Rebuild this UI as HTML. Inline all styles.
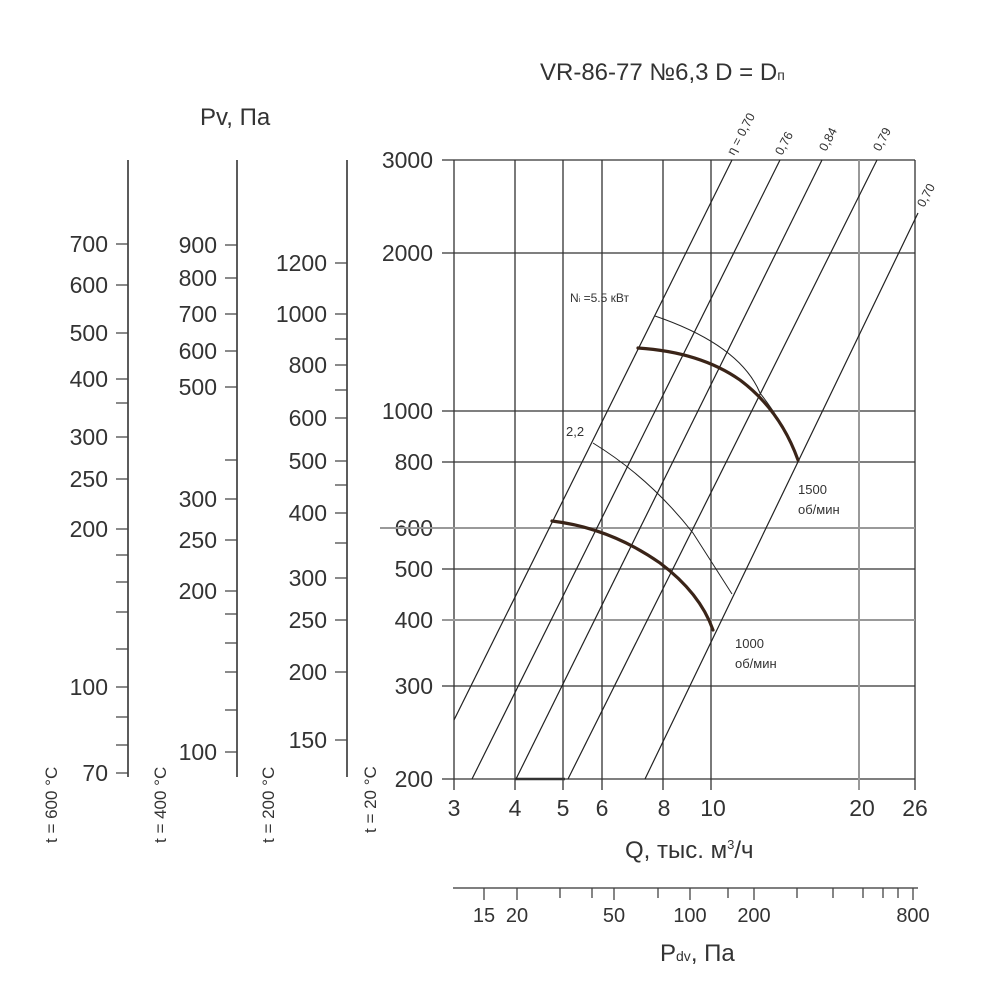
<!DOCTYPE html>
<html><head><meta charset="utf-8"><style>
html,body{margin:0;padding:0;background:#fff;}
svg{display:block;font-family:"Liberation Sans","DejaVu Sans",sans-serif;}
</style></head><body>
<svg width="1000" height="1000" viewBox="0 0 1000 1000" xmlns="http://www.w3.org/2000/svg">
<rect width="1000" height="1000" fill="#fff"/>
<text x="540" y="80" font-size="24" fill="#333">VR-86-77 №6,3 D = D<tspan font-size="14">п</tspan></text>
<text x="200" y="125" font-size="24" fill="#333">Pv, Па</text>

<!-- left axes -->
<g stroke="#333" stroke-width="1.6">
<line x1="128" y1="160" x2="128" y2="777"/>
<line x1="237" y1="160" x2="237" y2="777"/>
<line x1="347" y1="160" x2="347" y2="777"/>
</g>
<g stroke="#444" stroke-width="1.3">
<path d="M116 244H128M116 285H128M116 333H128M116 379H128M116 403H128M116 437H128M116 479H128M116 529H128M116 555H128M116 582H128M116 612H128M116 649H128M116 687H128M116 717H128M116 745H128M116 773H128"/>
<path d="M225 245H237M225 278H237M225 314H237M225 351H237M225 387H237M225 460H237M225 499H237M225 540H237M225 591H237M225 614H237M225 643H237M225 672H237M225 710H237M225 752H237"/>
<path d="M335 263H347M335 314H347M335 339H347M335 365H347M335 390H347M335 418H347M335 461H347M335 485H347M335 513H347M335 543H347M335 578H347M335 620H347M335 672H347M335 740H347"/>
</g>
<g font-size="23" fill="#333" text-anchor="end">
<text x="108" y="252">700</text><text x="108" y="293">600</text><text x="108" y="341">500</text><text x="108" y="387">400</text><text x="108" y="445">300</text><text x="108" y="487">250</text><text x="108" y="537">200</text><text x="108" y="695">100</text><text x="108" y="781">70</text>
<text x="217" y="253">900</text><text x="217" y="286">800</text><text x="217" y="322">700</text><text x="217" y="359">600</text><text x="217" y="395">500</text><text x="217" y="507">300</text><text x="217" y="548">250</text><text x="217" y="599">200</text><text x="217" y="760">100</text>
<text x="327" y="271">1200</text><text x="327" y="322">1000</text><text x="327" y="373">800</text><text x="327" y="426">600</text><text x="327" y="469">500</text><text x="327" y="521">400</text><text x="327" y="586">300</text><text x="327" y="628">250</text><text x="327" y="680">200</text><text x="327" y="748">150</text>
<text x="433" y="168">3000</text><text x="433" y="261">2000</text><text x="433" y="419">1000</text><text x="433" y="470">800</text><text x="433" y="536">600</text><text x="433" y="577">500</text><text x="433" y="628">400</text><text x="433" y="694">300</text><text x="433" y="787">200</text>
</g>
<g font-size="17" fill="#333">
<text transform="translate(57,843) rotate(-90)">t = 600 °C</text>
<text transform="translate(166,843) rotate(-90)">t = 400 °C</text>
<text transform="translate(274,843) rotate(-90)">t = 200 °C</text>
<text transform="translate(376,833) rotate(-90)">t = 20 °C</text>
</g>

<!-- main grid -->
<g stroke="#333" stroke-width="1.3">
<path d="M442 160H915M442 253H915M442 411H915M442 462H915M442 569H915M442 686H915M442 779H915"/>
<path d="M454 160V790M515 160V790M563 160V790M602 160V790M663 160V790M711 160V790M915 160V790"/>
</g>
<g stroke="#999" stroke-width="2">
<path d="M380 528H915M442 620H915"/>
<path d="M859 160V790"/>
</g>
<path d="M515 779H565" stroke="#333" stroke-width="2.5"/>

<!-- efficiency lines -->
<g stroke="#222" stroke-width="1.2" fill="none">
<line x1="454" y1="720" x2="732" y2="160"/>
<line x1="472" y1="779" x2="780" y2="160"/>
<line x1="516" y1="779" x2="822" y2="160"/>
<line x1="568" y1="779" x2="877" y2="160"/>
<line x1="645" y1="779" x2="918" y2="213"/>
</g>
<g font-size="12.5" fill="#333">
<text transform="translate(734,156) rotate(-62)">η = 0,70</text>
<text transform="translate(782,156) rotate(-62)">0,76</text>
<text transform="translate(826,152) rotate(-62)">0,84</text>
<text transform="translate(880,152) rotate(-62)">0,79</text>
<text transform="translate(924,208) rotate(-62)">0,70</text>
</g>

<!-- power lines -->
<g stroke="#222" stroke-width="1" fill="none">
<path d="M655 316 Q 740 345 760 393 Q 785 425 798 458"/>
<path d="M593 443 Q 650 478 693 533 L 732 594"/>
</g>
<text x="570" y="302" font-size="12" fill="#333">N<tspan font-size="7">i</tspan> =5.5 кВт</text>
<text x="566" y="436" font-size="13" fill="#333">2,2</text>

<!-- performance curves -->
<g stroke="#3a2418" stroke-width="3.2" fill="none" stroke-linecap="round">
<path d="M638 348 Q 700 352 740 380 Q 780 410 798 460"/>
<path d="M552 521 Q 610 528 660 563 Q 700 593 713 630"/>
</g>
<g font-size="13" fill="#333">
<text x="798" y="494">1500</text><text x="798" y="514">об/мин</text>
<text x="735" y="648">1000</text><text x="735" y="668">об/мин</text>
</g>

<!-- Q axis labels -->
<g font-size="23" fill="#333" text-anchor="middle">
<text x="454" y="816">3</text><text x="515" y="816">4</text><text x="563" y="816">5</text><text x="602" y="816">6</text><text x="664" y="816">8</text><text x="713" y="816">10</text><text x="862" y="816">20</text><text x="915" y="816">26</text>
</g>
<text x="625" y="858" font-size="24" fill="#333">Q, тыс. м<tspan font-size="13" dy="-9">3</tspan><tspan dy="9">/ч</tspan></text>

<!-- Pdv axis -->
<line x1="453" y1="888" x2="918" y2="888" stroke="#333" stroke-width="1.3"/>
<g stroke="#444" stroke-width="1.3">
<path d="M484 888V900M517 888V900M560 888V898M592 888V898M614 888V900M658 888V898M690 888V900M728 888V898M754 888V900M797 888V898M833 888V898M863 888V898M883 888V898M898 888V898M913 888V900"/>
</g>
<g font-size="20" fill="#333" text-anchor="middle">
<text x="484" y="922">15</text><text x="517" y="922">20</text><text x="614" y="922">50</text><text x="690" y="922">100</text><text x="754" y="922">200</text><text x="913" y="922">800</text>
</g>
<text x="660" y="961" font-size="24" fill="#333">P<tspan font-size="14">dv</tspan>, Па</text>
</svg>
</body></html>
